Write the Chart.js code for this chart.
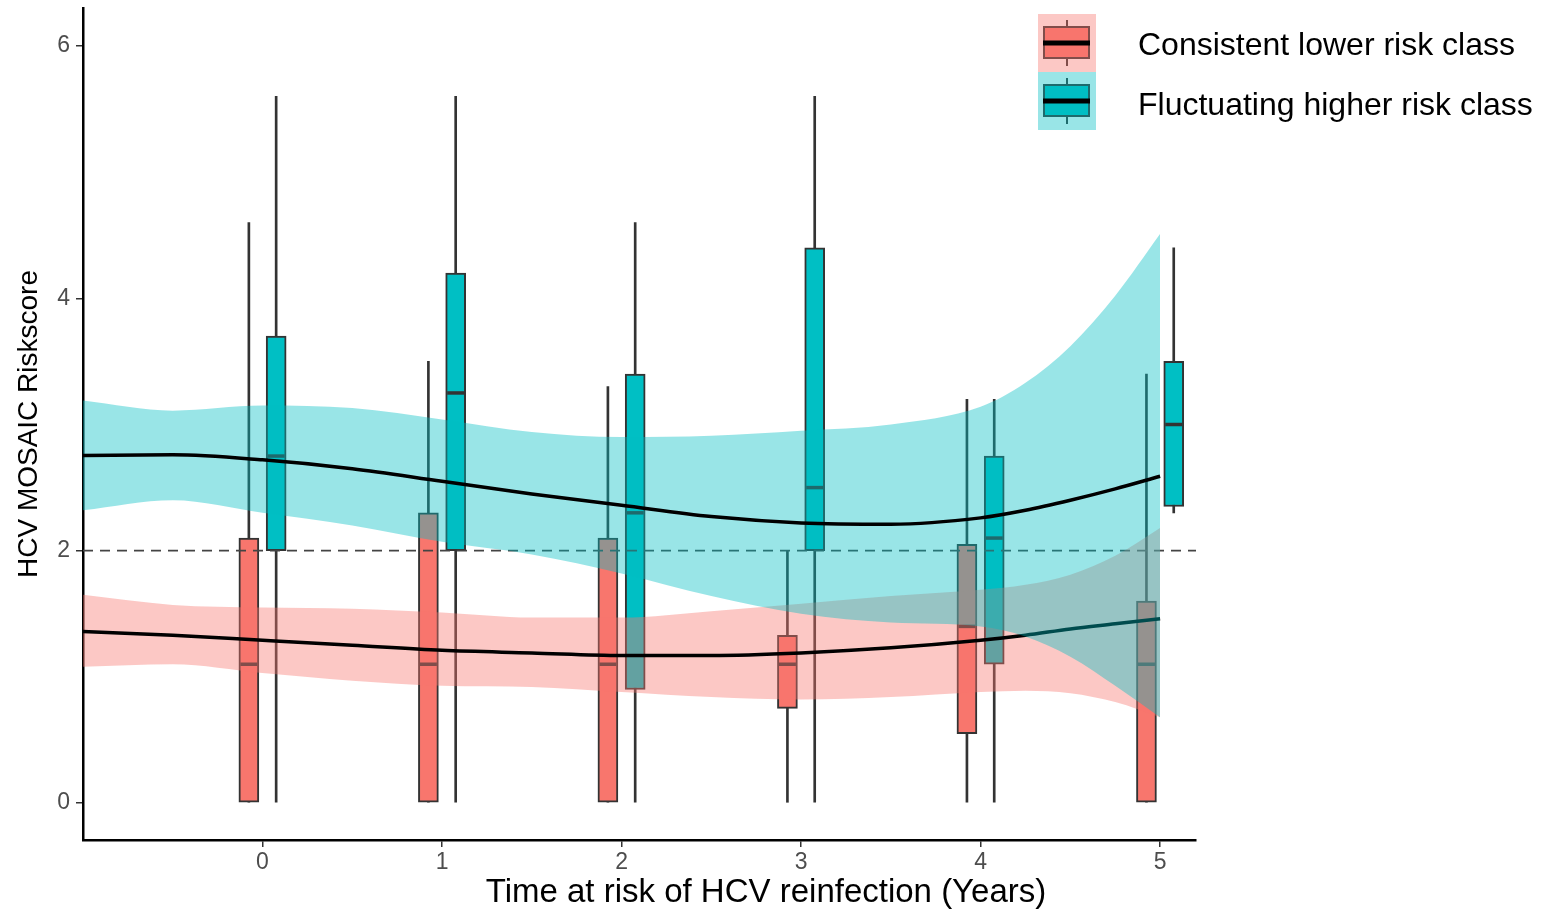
<!DOCTYPE html>
<html><head><meta charset="utf-8">
<script src="https://cdn.jsdelivr.net/npm/chart.js@4.4.1/dist/chart.umd.min.js"></script>
<style>html,body{margin:0;padding:0;background:#fff;}#wrap{width:1553px;height:911px;}</style>
</head><body><div id="wrap"><canvas id="c" width="1553" height="911"></canvas></div>
<script>
// ---------- data ----------
const timePoints = [0, 1, 2, 3, 4, 5];
const xTickValues = [0, 1, 2, 3, 4, 5];
const yTickValues = [0, 2, 4, 6];
const seriesNames = ['Consistent lower risk class', 'Fluctuating higher risk class'];
const xTitle = 'Time at risk of HCV reinfection (Years)';
const yTitle = 'HCV MOSAIC Riskscore';
const refLineValue = 2;

// boxplot summaries per time point
const lowerMin    = [0, 0, 0, 0, 0, 0];
const lowerQ1     = [0, 0, 0, 0.75, 0.55, 0];
const lowerMedian = [1.1, 1.1, 1.1, 1.1, 1.4, 1.1];
const lowerQ3     = [2.1, 2.3, 2.1, 1.33, 2.05, 1.6];
const lowerMax    = [4.6, 3.5, 3.3, 2.0, 3.2, 3.4];

const higherMin    = [0, 0, 0, 0, 0, 2.3];
const higherQ1     = [2.0, 2.0, 0.9, 2.0, 1.1, 2.35];
const higherMedian = [2.75, 3.25, 2.3, 2.5, 2.1, 3.0];
const higherQ3     = [3.7, 4.2, 3.4, 4.4, 2.75, 3.5];
const higherMax    = [5.6, 5.6, 4.6, 5.6, 3.2, 4.4];

// smoothed fits with confidence bands
const smoothX     = [-1, -0.5, 0, 0.5, 1, 1.5, 2, 2.5, 3, 3.5, 4, 4.25, 4.5, 4.75, 5];
const lowerFit    = [1.36, 1.33, 1.29, 1.25, 1.21, 1.19, 1.17, 1.17, 1.19, 1.23, 1.29, 1.33, 1.38, 1.42, 1.46];
const lowerFitHi  = [1.65, 1.57, 1.55, 1.54, 1.51, 1.47, 1.47, 1.52, 1.58, 1.64, 1.69, 1.73, 1.81, 1.96, 2.18];
const lowerFitLo  = [1.08, 1.10, 1.03, 0.97, 0.93, 0.92, 0.88, 0.84, 0.82, 0.84, 0.88, 0.89, 0.87, 0.80, 0.68];
const higherFit   = [2.755, 2.76, 2.72, 2.65, 2.55, 2.45, 2.36, 2.27, 2.22, 2.21, 2.26, 2.32, 2.40, 2.49, 2.59];
const higherFitHi = [3.19, 3.11, 3.15, 3.13, 3.04, 2.94, 2.90, 2.91, 2.95, 3.00, 3.14, 3.33, 3.62, 4.02, 4.51];
const higherFitLo = [2.32, 2.40, 2.30, 2.20, 2.07, 1.97, 1.82, 1.64, 1.50, 1.43, 1.40, 1.32, 1.16, 0.93, 0.68];

// ---------- styling ----------
const FONT = "'Liberation Sans', Arial, sans-serif";
const LOW_FILL = '#F8766D', HIGH_FILL = '#00BFC4';
const LOW_BAND = 'rgba(248,118,109,0.4)', HIGH_BAND = 'rgba(0,191,196,0.4)';
const DODGE = 0.076;
const OUTLINE = '#333333';

function boxDatasets(off, mins, q1, med, q3, maxs, fill) {
  return [
    { type: 'bar', data: timePoints.map((t, i) => ({ x: t + off, y: [mins[i], maxs[i]] })),
      backgroundColor: OUTLINE, borderWidth: 0, barThickness: 2, grouped: false, order: 30 },
    { type: 'bar', data: timePoints.map((t, i) => ({ x: t + off, y: [q1[i], q3[i]] })),
      backgroundColor: fill, borderColor: OUTLINE, borderWidth: 2, borderSkipped: false,
      barThickness: 20, grouped: false, order: 29 },
    { type: 'line', data: timePoints.map((t, i) => ({ x: t + off, y: med[i] })), showLine: false,
      pointStyle: 'line', pointRadius: 8.5, pointBorderWidth: 3.5, pointBorderColor: OUTLINE,
      pointBackgroundColor: OUTLINE, order: 28 }
  ];
}
function pts(ys) { return smoothX.map((x, i) => ({ x: x, y: ys[i] })); }
function band(lo, hi, color, order) {
  return [
    { type: 'line', data: pts(lo), borderColor: 'rgba(0,0,0,0)', borderWidth: 1, pointRadius: 0,
      fill: false, cubicInterpolationMode: 'monotone', order: order },
    { type: 'line', data: pts(hi), borderColor: 'rgba(0,0,0,0)', borderWidth: 1, pointRadius: 0,
      fill: '-1', backgroundColor: color, cubicInterpolationMode: 'monotone', order: order }
  ];
}
function fitLine(ys, order) {
  return { type: 'line', data: pts(ys), borderColor: '#000', borderWidth: 3.5, pointRadius: 0,
    fill: false, cubicInterpolationMode: 'monotone', order: order };
}

const datasets = [
  ...boxDatasets(-DODGE, lowerMin, lowerQ1, lowerMedian, lowerQ3, lowerMax, LOW_FILL),
  ...boxDatasets(DODGE, higherMin, higherQ1, higherMedian, higherQ3, higherMax, HIGH_FILL),
  { type: 'line', data: [{ x: -1, y: refLineValue }, { x: 5.2, y: refLineValue }],
    borderColor: '#444444', borderWidth: 1.8, borderDash: [10, 7], pointRadius: 0, fill: false, order: 20 },
  ...band(lowerFitLo, lowerFitHi, LOW_BAND, 12),
  fitLine(lowerFit, 11),
  ...band(higherFitLo, higherFitHi, HIGH_BAND, 8),
  fitLine(higherFit, 7)
];

const overlayPlugin = {
  id: 'overlay',
  afterDraw(chart) {
    const ctx = chart.ctx;
    ctx.save();
    // x axis title
    ctx.fillStyle = '#000';
    ctx.font = '33px ' + FONT;
    ctx.textAlign = 'center';
    ctx.textBaseline = 'middle';
    ctx.fillText(xTitle, 766, 893);
    // legend
    const keys = [[LOW_FILL, LOW_BAND], [HIGH_FILL, HIGH_BAND]];
    const textY = [46, 106];
    const kx = 1038, ky = 14, ks = 58;
    keys.forEach((k, i) => {
      const y0 = ky + i * ks;
      const cx = kx + ks / 2;
      ctx.fillStyle = '#fff';
      ctx.fillRect(kx, y0, ks, ks);
      ctx.strokeStyle = OUTLINE; ctx.lineWidth = 2;
      ctx.beginPath(); ctx.moveTo(cx, y0 + 6); ctx.lineTo(cx, y0 + 52); ctx.stroke();
      ctx.fillStyle = k[0];
      ctx.fillRect(kx + 6, y0 + 13, 45, 31);
      ctx.strokeRect(kx + 6, y0 + 13, 45, 31);
      ctx.fillStyle = k[1];
      ctx.fillRect(kx, y0, ks, ks);
      ctx.strokeStyle = '#000'; ctx.lineWidth = 5;
      ctx.beginPath(); ctx.moveTo(kx + 5, y0 + 29); ctx.lineTo(kx + 52, y0 + 29); ctx.stroke();
      ctx.fillStyle = '#000';
      ctx.font = '32px ' + FONT;
      ctx.textAlign = 'left';
      ctx.textBaseline = 'middle';
      ctx.fillText(seriesNames[i], 1138, textY[i]);
    });
    ctx.restore();
  }
};

new Chart(document.getElementById('c'), {
  type: 'line',
  data: { datasets: datasets },
  options: {
    responsive: false,
    animation: false,
    events: [],
    layout: { autoPadding: false, padding: { top: 8, right: 357, bottom: 0, left: 0 } },
    plugins: { legend: { display: false }, tooltip: { enabled: false } },
    scales: {
      x: {
        type: 'linear', min: -1, max: 5.2, offset: false,
        grid: { display: true, drawOnChartArea: false, drawTicks: true, tickLength: 7, color: OUTLINE, lineWidth: 1.5, offset: false },
        border: { display: true, color: '#000', width: 2.5 },
        ticks: { color: '#4D4D4D', font: { family: FONT, size: 23 }, padding: 2, maxRotation: 0, autoSkip: false },
        afterBuildTicks: s => { s.ticks = xTickValues.map(v => ({ value: v })); },
        afterFit: s => { s.height = 71; s.paddingLeft = 0; s.paddingRight = 0; }
      },
      y: {
        type: 'linear', min: -0.293, max: 6.301,
        grid: { display: true, drawOnChartArea: false, drawTicks: true, tickLength: 7, color: OUTLINE, lineWidth: 1.5 },
        border: { display: true, color: '#000', width: 2.5 },
        ticks: { color: '#4D4D4D', font: { family: FONT, size: 23 }, padding: 6 },
        afterBuildTicks: s => { s.ticks = yTickValues.map(v => ({ value: v })); },
        afterFit: s => { s.width = 83; s.paddingTop = 0; s.paddingBottom = 0; },
        title: { display: true, text: yTitle, color: '#000', font: { family: FONT, size: 28 }, padding: { top: 12, bottom: 0 } }
      }
    }
  },
  plugins: [overlayPlugin]
});
</script>
</body></html>
